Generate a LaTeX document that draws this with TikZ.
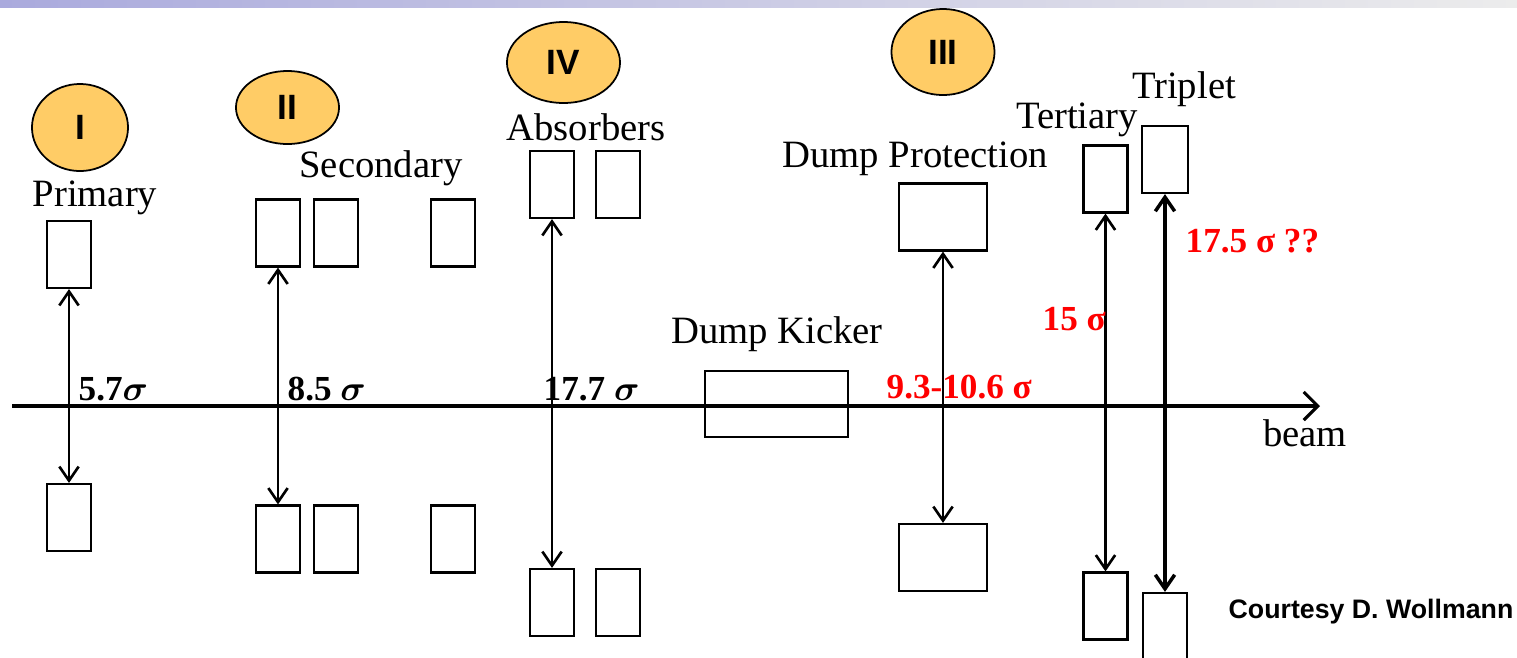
\documentclass[tikz,border=0pt]{standalone}
\usepackage{fontspec}
\setmainfont{Liberation Serif}
\newfontfamily\labelsans{Liberation Sans}
\usetikzlibrary{arrows.meta,shapes.geometric}
\definecolor{stagefill}{RGB}{255,204,102}
\definecolor{barleft}{RGB}{170,170,221}
\definecolor{barright}{RGB}{236,236,236}
\begin{document}
\begin{tikzpicture}[x=0.01cm, y=-0.01cm,
    jaw/.style={draw, line width=0.6pt, inner sep=0pt, minimum width=0.44cm, minimum height=0.67cm},
    stage/.style={ellipse, draw, line width=0.5pt, fill=stagefill, inner sep=0pt,
      font=\labelsans\bfseries\fontsize{10}{12}\selectfont},
    lbl/.style={anchor=base, font=\fontsize{11}{13}\selectfont},
    nsig/.style={anchor=base west, inner sep=0pt, font=\bfseries\fontsize{10}{12}\selectfont},
    rsig/.style={nsig, text=red},
    aperture/.style={{Straight Barb[length=4pt,width=5.5pt]}-{Straight Barb[length=4pt,width=5.5pt]}, line width=0.75pt}]
  % page 1517 x 657 px, y downwards
  \useasboundingbox (0,0) rectangle (1517,657);
  \shade[left color=barleft, right color=barright] (0,0) rectangle (1517,7);
  % beam axis
  \coordinate (bs) at (12,406);
  \coordinate (be) at (1320,406);
  \draw[line width=0.9pt, -{Straight Barb[length=4pt,width=8pt]}] (bs) -- (be);
  \node[lbl] (beam) at (1305,446) {beam};
  % stages
  \node[stage, minimum width=0.96cm, minimum height=0.87cm] (s1) at (80,127.5) {I};
  \node[stage, minimum width=1.03cm, minimum height=0.73cm] (s2) at (287.5,107.5) {II};
  \node[stage, minimum width=1.13cm, minimum height=0.81cm] (s4) at (563.5,62.5) {IV};
  \node[stage, minimum width=1.03cm, minimum height=0.86cm] (s3) at (943,52) {III};
  % primary
  \node[lbl] (prim) at (95,206) {Primary};
  \node[jaw] (pu) at (69,254.5) {};
  \node[jaw] (pl) at (69,517.5) {};
  \draw[aperture] (pu.south) -- (pl.north);
  \node[nsig] (psig) at (78,400) {5.7{\boldmath$\sigma$}};
  % secondary
  \node[lbl] (sec) at (381,177) {Secondary};
  \foreach \x/\i in {278/1,336/2,453/3} {
    \node[jaw] (su\i) at (\x,233) {};
    \node[jaw] (sl\i) at (\x,539) {};
  }
  \draw[aperture] (su1.south) -- (sl1.north);
  \node[nsig] (ssig) at (287,400) {8.5 {\boldmath$\sigma$}};
  % absorbers
  \node[lbl] (abs) at (586,140) {Absorbers};
  \foreach \x/\i in {552/1,618/2} {
    \node[jaw] (au\i) at (\x,184.5) {};
    \node[jaw] (al\i) at (\x,602.5) {};
  }
  \draw[aperture] (au1.south) -- (al1.north);
  \node[nsig] (asig) at (543,400) {17.7 {\boldmath$\sigma$}};
  % dump kicker
  \node[lbl] (dk) at (777,343) {Dump Kicker};
  \node[jaw, minimum width=1.43cm, minimum height=0.66cm] (kick) at (776.5,404) {};
  % dump protection
  \node[lbl] (dp) at (915,167) {Dump Protection};
  \node[jaw, minimum width=0.88cm] (du) at (943,217) {};
  \node[jaw, minimum width=0.88cm] (dl) at (943,557.5) {};
  \draw[aperture] (du.south) -- (dl.north);
  \node[rsig] (dsig) at (886,398) {9.3-10.6 σ};
  % tertiary
  \node[lbl] (ter) at (1077,128) {Tertiary};
  \node[jaw] (tu) at (1105.5,179) {};
  \node[jaw] (tl) at (1105.5,606) {};
  \draw[aperture] (tu.south) -- (tl.north);
  \node[rsig] (tsig) at (1042,330) {15 σ};
  % triplet
  \node[lbl] (tri) at (1184,98) {Triplet};
  \node[jaw, minimum width=0.46cm] (qu) at (1165,159.5) {};
  \node[jaw] (ql) at (1165,626.5) {};
  \draw[aperture, line width=1pt] (qu.south) -- (ql.north);
  \node[rsig] (qsig) at (1185,252) {17.5 σ ??};
  \node[anchor=base, font=\labelsans\bfseries\fontsize{7.6}{9}\selectfont] (credit) at (1371,618) {Courtesy D. Wollmann};
\end{tikzpicture}
\end{document}
